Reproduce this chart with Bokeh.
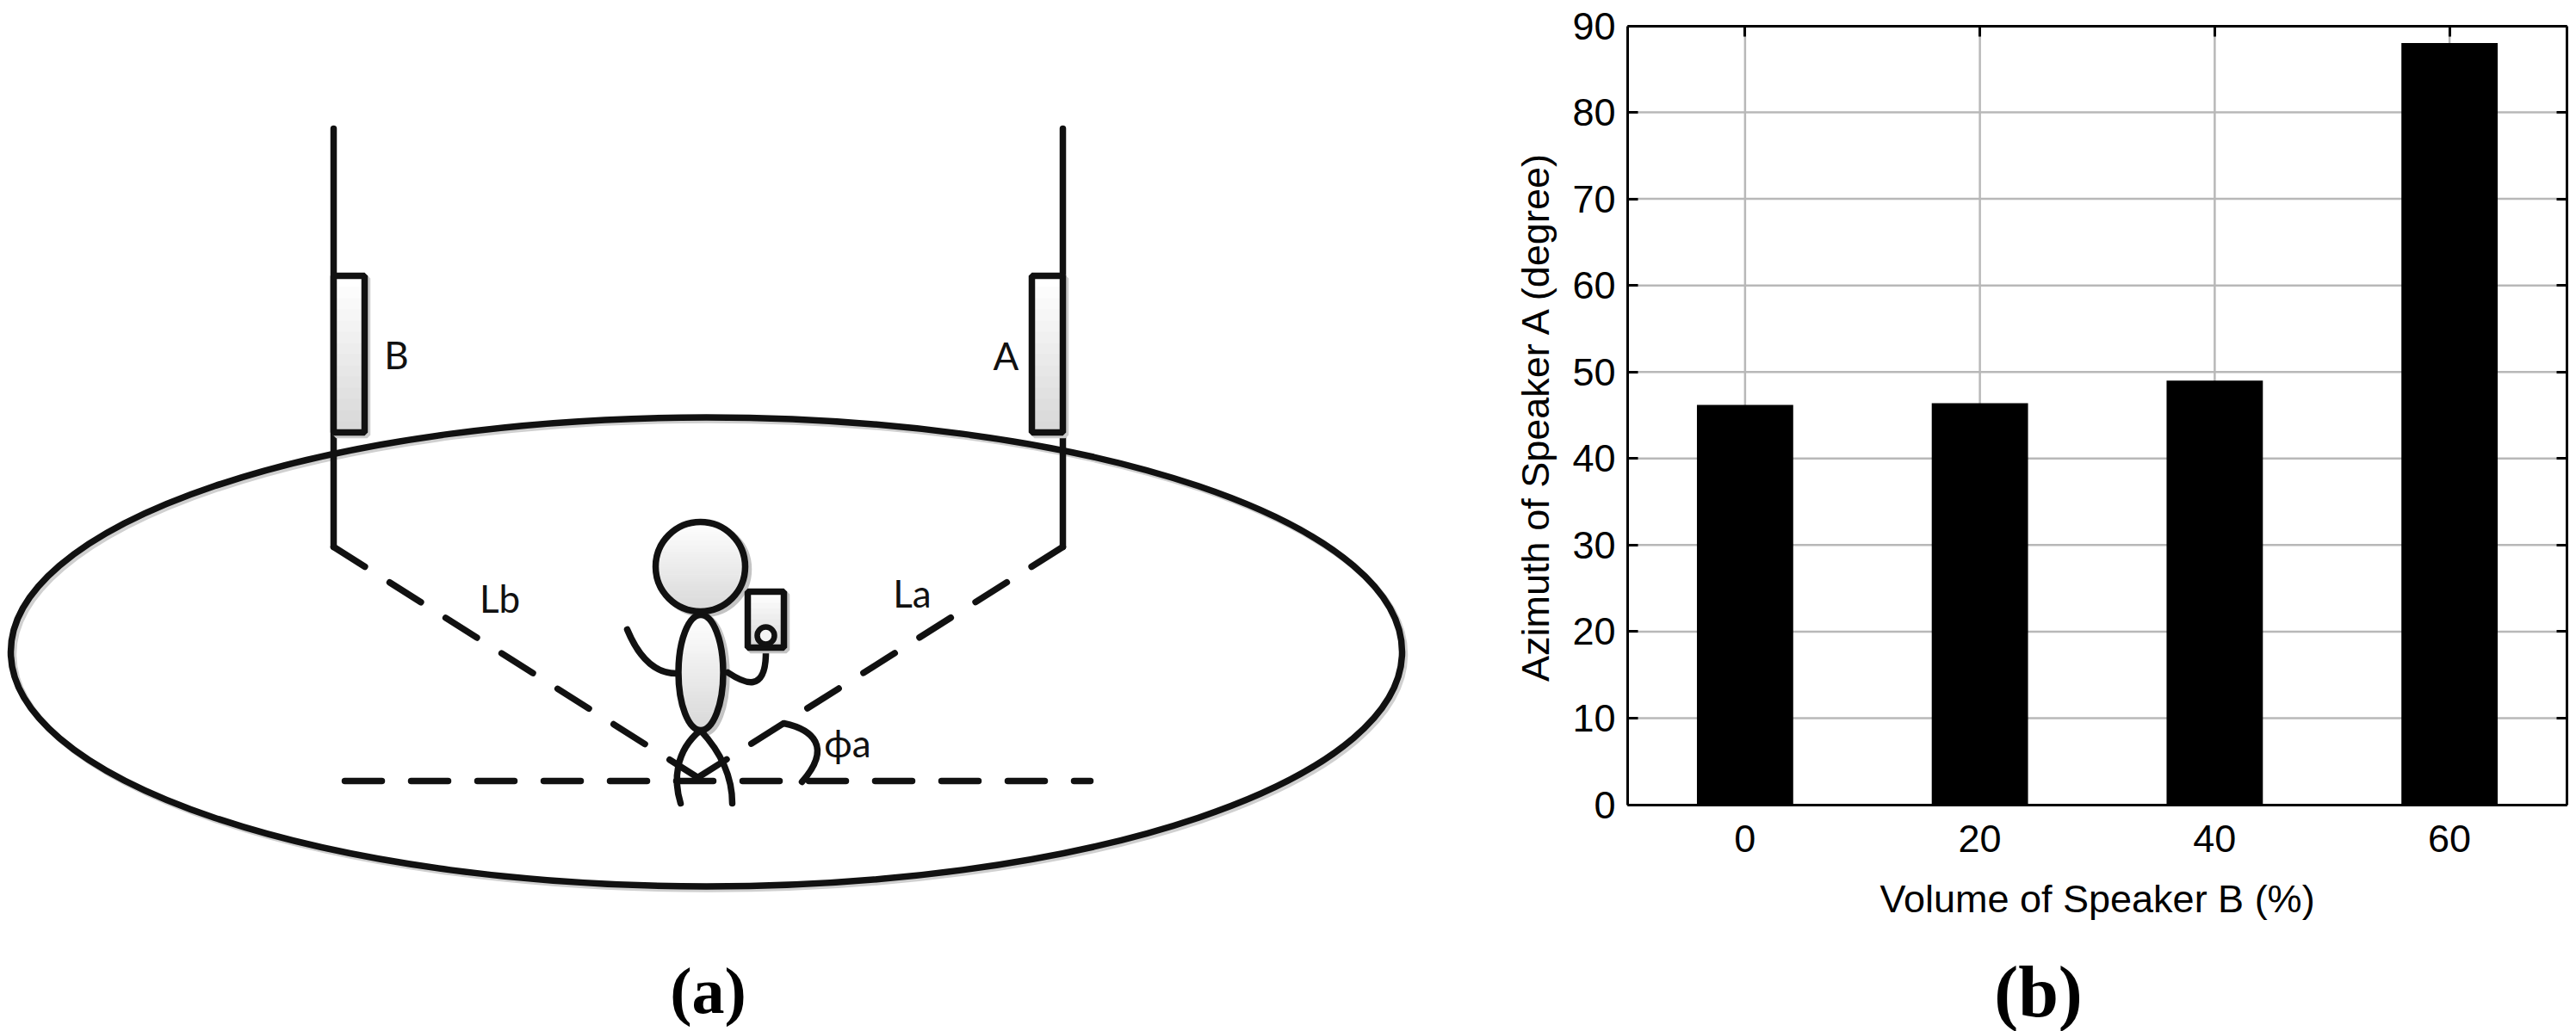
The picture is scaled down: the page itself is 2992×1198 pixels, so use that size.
from bokeh.plotting import figure
from bokeh.embed import file_html
from bokeh.resources import INLINE
from bokeh.models import Range1d, FixedTicker, LinearAxis
from bokeh.core.properties import value

# ---- bar chart data
categories = ["0", "20", "40", "60"]
azimuth = [46.2, 46.4, 49.0, 88.0]
y_ticks = [0, 10, 20, 30, 40, 50, 60, 70, 80, 90]
x_label = "Volume of Speaker B (%)"
y_label = "Azimuth of Speaker A (degree)"

# ---- schematic geometry (picture coordinates)
room = dict(x=820, y=757, w=1616, h=545)
wall_b = dict(x=[387, 387], y=[149, 635])
wall_a = dict(x=[1234, 1234], y=[149, 635])
path_b = dict(x=[387, 810], y=[635, 903])
path_a = dict(x=[1234, 810], y=[635, 903])
floor_line = dict(x=[400, 1266], y=[907, 907])
speaker_b = (387, 423, 320, 502)
speaker_a = (1198, 1234, 320, 502)
head = (813, 658, 104, 104)
body = (813.5, 781, 52, 134)
phone = (868, 910, 687, 752)
dial = (889, 738, 20)
curves = [
    (728, 731, 740, 760, 757, 782, 785, 782),
    (845, 781, 863, 793, 890, 807, 889, 755),
    (813, 848, 783, 873, 782, 907, 790, 933),
    (813, 848, 840, 877, 850, 907, 850, 933),
    (910, 840, 943, 847, 967, 867, 931, 908),
]
labels = [("B", 460, 411), ("A", 1168, 412), ("Lb", 580, 694), ("La", 1059, 688), ("\u03d5a", 984, 862)]

INK = "#111111"
PAGE_W, PAGE_H = 2992, 1198
LW = 7.5

# chart box on the page: where the axes of the bar chart sit
BOX_L, BOX_R, BOX_T, BOX_B = 1890, 2981, 29.5, 934.5
X0, X1 = 0.5, 4.5
Y0, Y1 = 0, 90
per_x = (BOX_R - BOX_L) / (X1 - X0)
per_y = (BOX_B - BOX_T) / (Y1 - Y0)


def shade(t):
    v = int(255 - t * 38)
    return f"#{v:02x}{v:02x}{v:02x}"


d = figure(width=PAGE_W, height=PAGE_H, x_range=Range1d(0, PAGE_W), y_range=Range1d(PAGE_H, 0),
           x_axis_type=None, y_axis_type=None,
           output_backend="svg", toolbar_location=None, min_border=0)
d.grid.visible = False
d.outline_line_color = None
d.extra_x_ranges["bx"] = Range1d(X0 - BOX_L / per_x, X0 + (PAGE_W - BOX_L) / per_x)
d.extra_y_ranges["by"] = Range1d(Y0 - (PAGE_H - BOX_B) / per_y, Y0 + BOX_B / per_y)


def grad_rect(l, r, t, b, n=14):
    step = (b - t) / n
    d.quad(left=[l] * n, right=[r] * n,
           top=[t + i * step for i in range(n)],
           bottom=[t + (i + 1) * step + 0.7 for i in range(n)],
           fill_color=[shade(i / (n - 1)) for i in range(n)], line_color=None)


def grad_ellipse(cx, cy, w, h, n=36):
    step = h / n
    tops, bots, ls, rs, cols = [], [], [], [], []
    for i in range(n):
        ym = (i + 0.5) / n * 2 - 1
        half = w / 2 * (1 - ym * ym) ** 0.5
        tops.append(cy - h / 2 + i * step)
        bots.append(cy - h / 2 + (i + 1) * step + 0.7)
        ls.append(cx - half)
        rs.append(cx + half)
        cols.append(shade(i / (n - 1)))
    d.quad(left=ls, right=rs, top=tops, bottom=bots, fill_color=cols, line_color=None)


# room with faint shadow
d.ellipse(x=[room["x"] + 3], y=[room["y"] + 3], width=[room["w"]], height=[room["h"]],
          fill_color=None, line_color="#d0d0d0", line_width=LW)
d.ellipse(x=[room["x"]], y=[room["y"]], width=[room["w"]], height=[room["h"]],
          fill_color=None, line_color=INK, line_width=LW)

# walls and dashed paths
for seg in (wall_b, wall_a):
    d.line(seg["x"], seg["y"], line_color=INK, line_width=LW, line_cap="round")
for seg in (path_b, path_a, floor_line):
    d.line(seg["x"], seg["y"], line_color=INK, line_width=LW, line_dash="43 34", line_cap="round")

# speakers
for l, r, t, b in (speaker_b, speaker_a):
    d.quad(left=[l + 3], right=[r + 3], top=[t + 3], bottom=[b + 3], fill_color=None, line_color="#cccccc", line_width=LW)
    grad_rect(l, r, t, b)
    d.quad(left=[l], right=[r], top=[t], bottom=[b], fill_color=None, line_color=INK, line_width=LW)

# person: shadows
d.ellipse(x=[head[0] + 4], y=[head[1] + 3], width=[head[2]], height=[head[3]], fill_color=None, line_color="#c4c4c4", line_width=LW)
d.ellipse(x=[body[0] + 4], y=[body[1] + 3], width=[body[2]], height=[body[3]], fill_color=None, line_color="#c4c4c4", line_width=LW)

# person: limbs and angle arc
d.bezier(x0=[c[0] for c in curves], y0=[c[1] for c in curves],
         cx0=[c[2] for c in curves], cy0=[c[3] for c in curves],
         cx1=[c[4] for c in curves], cy1=[c[5] for c in curves],
         x1=[c[6] for c in curves], y1=[c[7] for c in curves],
         line_color=INK, line_width=LW, line_cap="round")

# person: body, head, phone
grad_ellipse(*body)
d.ellipse(x=[body[0]], y=[body[1]], width=[body[2]], height=[body[3]], fill_color=None, line_color=INK, line_width=LW)
d.quad(left=[phone[0] + 3], right=[phone[1] + 3], top=[phone[2] + 3], bottom=[phone[3] + 3], fill_color=None, line_color="#c4c4c4", line_width=LW)
grad_rect(phone[0], phone[1], phone[2], phone[3], n=10)
d.quad(left=[phone[0]], right=[phone[1]], top=[phone[2]], bottom=[phone[3]], fill_color=None, line_color=INK, line_width=LW)
grad_ellipse(*head)
d.ellipse(x=[head[0]], y=[head[1]], width=[head[2]], height=[head[3]], fill_color=None, line_color=INK, line_width=LW)
d.circle(x=[dial[0]], y=[dial[1]], radius=[dial[2] / 2], fill_color="#f4f4f4", line_color=INK, line_width=6.5)

# labels
d.text(x=[t[1] for t in labels], y=[t[2] for t in labels], text=[t[0] for t in labels],
       text_font=value("Lato"), text_font_size="44px", text_align="center", text_baseline="middle", text_color="#111111")
d.text(x=[822], y=[1150], text=["(a)"], text_font=value("Liberation Serif"), text_font_style="bold",
       text_font_size="76px", text_align="center", text_baseline="middle", text_color="#000000")
d.text(x=[2367], y=[1152], text=["(b)"], text_font=value("Liberation Serif"), text_font_style="bold",
       text_font_size="84px", text_align="center", text_baseline="middle", text_color="#000000")

# ---- bar chart, on its own scales
xs = list(range(1, len(categories) + 1))
inner = [t for t in y_ticks if t not in (Y0, Y1)]
RNG = dict(x_range_name="bx", y_range_name="by")
GRID = "#b8b8b8"
d.segment(x0=[X0] * len(inner), x1=[X1] * len(inner), y0=inner, y1=inner, line_color=GRID, line_width=2.5, **RNG)
d.segment(x0=xs, x1=xs, y0=[Y0] * len(xs), y1=[Y1] * len(xs), line_color=GRID, line_width=2.5, **RNG)
d.vbar(x=xs, top=azimuth, width=0.41, bottom=0, fill_color="#000000", line_color=None, **RNG)

FONT = "Liberation Sans"
SIZE = "45px"
STYLE = dict(axis_line_color="#000000", axis_line_width=3, major_tick_line_color="#000000",
             major_tick_line_width=3, major_tick_in=12, major_tick_out=0, minor_tick_line_color=None,
             major_label_text_font=FONT, major_label_text_font_size=SIZE, major_label_text_color="#000000",
             axis_label_text_font=FONT, axis_label_text_font_size=SIZE,
             axis_label_text_font_style="normal", axis_label_text_color="#000000", **RNG)

bottom = LinearAxis(ticker=FixedTicker(ticks=xs), fixed_location=Y0, bounds=(X0, X1),
                    major_label_overrides=dict(zip(xs, categories)), axis_label=x_label,
                    major_label_standoff=24, axis_label_standoff=25, **STYLE)
left = LinearAxis(ticker=FixedTicker(ticks=y_ticks), fixed_location=X0, bounds=(Y0, Y1),
                  axis_label=y_label, major_label_standoff=14, axis_label_standoff=14, **STYLE)
top = LinearAxis(ticker=FixedTicker(ticks=xs), fixed_location=Y1, bounds=(X0, X1),
                 major_label_overrides={t: "" for t in xs}, **STYLE)
right = LinearAxis(ticker=FixedTicker(ticks=y_ticks), fixed_location=X1, bounds=(Y0, Y1),
                   major_label_overrides={t: "" for t in y_ticks}, **STYLE)
d.add_layout(bottom, "below")
d.add_layout(left, "left")
d.add_layout(top, "above")
d.add_layout(right, "right")

open("out.html", "w").write(file_html(d, INLINE))
